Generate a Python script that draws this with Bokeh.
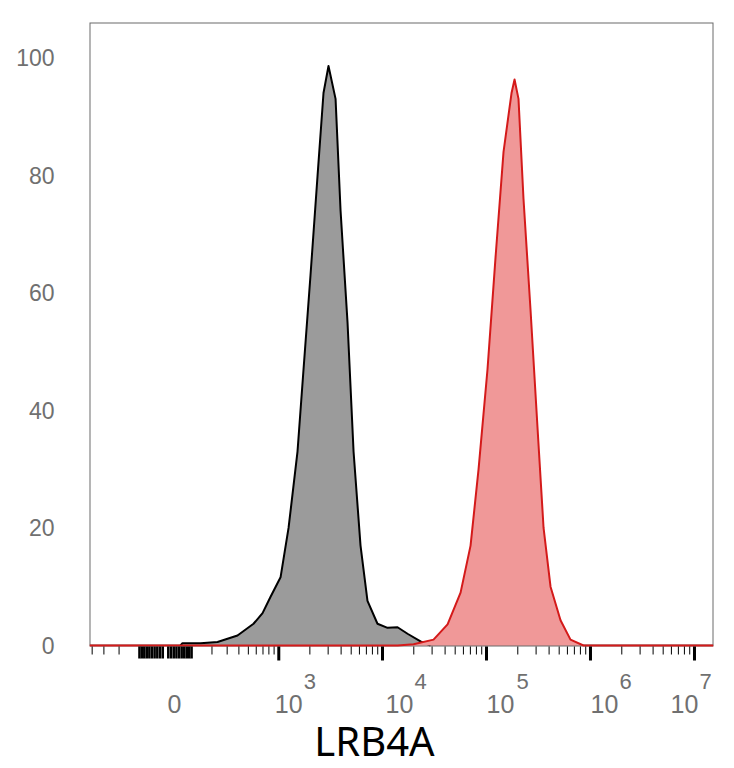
import numpy as np
from bokeh.plotting import figure
from bokeh.models import FixedTicker, Range1d
from bokeh.core.properties import value
from bokeh.embed import file_html
from bokeh.resources import INLINE

# ---- data (x in biexponential display units: asinh(v/164)/ln10) ----
gray_x = [0.144, 0.163, 0.337, 0.500, 0.692, 0.846, 0.933, 1.010, 1.106, 1.183,
          1.269, 1.327, 1.394, 1.462, 1.519, 1.567, 1.635, 1.683, 1.750, 1.808,
          1.875, 1.942, 2.038, 2.135, 2.231, 2.327, 2.452, 2.548]
gray_y = [0.0, 0.4, 0.4, 0.6, 1.7, 3.7, 5.5, 8.3, 11.6, 20.0,
          33.0, 47.0, 63.0, 80.0, 94.0, 98.6, 93.0, 74.0, 55.0, 33.0,
          17.0, 7.6, 3.7, 3.0, 3.1, 2.0, 0.7, 0.0]

red_x = [-0.731, 2.231, 2.385, 2.577, 2.712, 2.837, 2.933, 3.010, 3.096, 3.173,
         3.250, 3.327, 3.356, 3.394, 3.442, 3.510, 3.577, 3.635, 3.702, 3.798,
         3.894, 4.019, 5.269]
red_y = [0.0, 0.0, 0.2, 1.0, 3.6, 9.0, 17.0, 30.0, 47.0, 66.0,
         84.0, 94.0, 96.3, 93.0, 76.0, 57.0, 37.0, 20.0, 10.0, 4.3,
         1.0, 0.0, 0.0]

major_values = [0, 1e3, 1e4, 1e5, 1e6, 1e7]
major_base = ["0", "10", "10", "10", "10", "10"]
major_exp = ["", "3", "4", "5", "6", "7"]
x_title = "LRB4A"
y_ticks = [0, 20, 40, 60, 80, 100]

W = 164.0
def disp(v):
    return np.arcsinh(np.asarray(v, dtype=float) / W) / np.log(10)

linear_values = [v for v in range(-100, 101, 10) if v != 0]
minor_values = [-400, -300, -200]
for n in range(2, 7):
    for k in range(2, 10):
        minor_values.append(k * 10 ** n)

# ---- layout ----
X0, X1 = -0.731, 5.269          # display range
Y_TOP = 106.0
FRAME_L, FRAME_R, FRAME_T = 89, 713, 22
AX_PX = 645 - FRAME_T           # pixel height of the data box
ppu = AX_PX / Y_TOP             # pixels per y unit
ppx = (FRAME_R - FRAME_L) / (X1 - X0)
Y_BOT = -(768 - 645) / ppu      # frame extends below the box for axis decorations

def dy(px):
    return -px / ppu

p = figure(width=734, height=768, output_backend="svg", toolbar_location=None,
           x_range=Range1d(X0, X1), y_range=Range1d(Y_BOT, Y_TOP),
           min_border_left=FRAME_L, min_border_right=734 - FRAME_R,
           min_border_top=FRAME_T, min_border_bottom=0)
p.background_fill_color = "white"
p.border_fill_color = "white"
p.grid.visible = False
p.outline_line_color = None
p.xaxis.visible = False

# plot box
p.quad(left=X0, right=X1, bottom=0, top=Y_TOP, fill_color=None,
       line_color="#6a6a6a", line_width=2)

# histograms
p.varea(x=gray_x, y1=0, y2=gray_y, fill_color="#9b9b9b")
p.line(gray_x, gray_y, line_color="black", line_width=2, line_join="round")
p.varea(x=red_x, y1=0, y2=red_y, fill_color="#f09898")
p.line(red_x, red_y, line_color="#d41a1a", line_width=2, line_join="round")

# x axis ticks
maj = disp(major_values)
mnr = disp(minor_values)
lin = disp(linear_values)
p.segment(x0=mnr, y0=dy(1), x1=mnr, y1=dy(9), line_color="black", line_width=1)
p.segment(x0=lin, y0=dy(1), x1=lin, y1=dy(13), line_color="black", line_width=2.5)
p.segment(x0=maj[1:], y0=dy(1), x1=maj[1:], y1=dy(15), line_color="black", line_width=3)

# x tick labels
xo_base = [2, -4, 3, 0, 0, -24]
xo_exp = [0, 25, 32, 30, 29, 5]
p.text(x=maj, y=dy(58), text=major_base, x_offset=xo_base,
       text_font=value("Liberation Sans"), text_font_size="25px",
       text_color="#707070", text_align="left", text_baseline="middle")
p.text(x=maj, y=dy(36), text=major_exp, x_offset=xo_exp,
       text_font=value("Liberation Sans"), text_font_size="22px",
       text_color="#707070", text_align="left", text_baseline="middle")

# x title
p.text(x=[X0 + (374 - FRAME_L) / ppx], y=[dy(95)], text=[x_title],
       text_font=value("Noto Sans"), text_font_size="40px", text_color="black",
       text_align="center", text_baseline="middle")

ya = p.yaxis[0]
ya.ticker = FixedTicker(ticks=y_ticks)
ya.axis_line_color = None
ya.major_tick_line_color = None
ya.minor_tick_line_color = None
ya.major_label_standoff = 29
ya.major_label_text_font = "Liberation Sans"
ya.major_label_text_font_size = "23px"
ya.major_label_text_color = "#707070"

open("out.html", "w").write(file_html(p, INLINE))
